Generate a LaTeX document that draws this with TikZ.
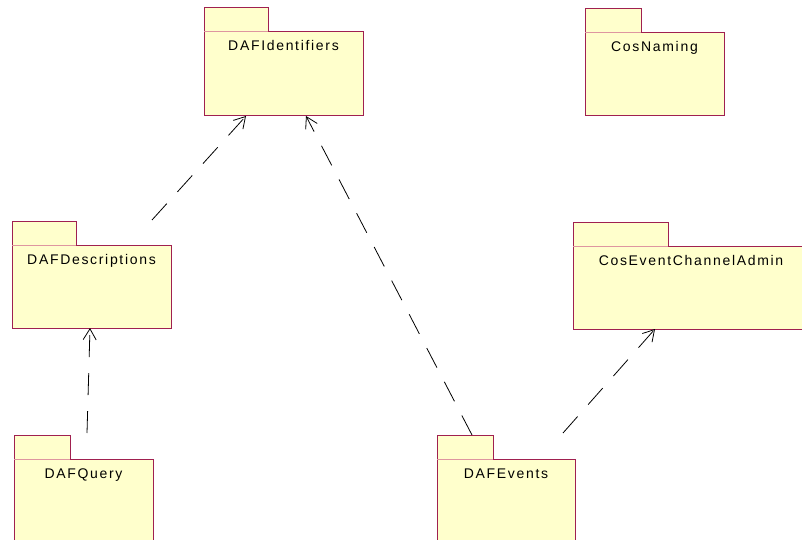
\documentclass[tikz,border=0pt]{standalone}
\usepackage{fontspec}
\setmainfont{Liberation Sans}
\newfontfamily\pkgfont{Liberation Sans}[LetterSpace=12]
\usepackage{tikz}
\usetikzlibrary{calc}
\usetikzlibrary{positioning}
\usetikzlibrary{arrows.meta}
\definecolor{pkgfill}{RGB}{255,255,204}
\definecolor{pkgline}{RGB}{160,32,80}
\definecolor{pkgsep}{RGB}{222,150,160}

\begin{document}
\begin{tikzpicture}[x=1pt,y=-1pt,
		pkg/.style={draw=pkgline,fill=pkgfill,line width=1pt,inner sep=0pt,outer sep=0pt,anchor=north west},
		pkgtab/.style={draw=pkgline,fill=pkgfill,line width=1pt},
		pkgsep/.style={draw=pkgsep,line width=1pt},
		pkgname/.style={font=\pkgfont\fontsize{14}{16}\selectfont,anchor=base,inner sep=0pt},
		dep/.style={line width=.8pt,dash pattern=on 22pt off 16pt,-{Straight Barb[length=11pt,width=13pt]}}]

				\useasboundingbox (0,0) rectangle (802,540);
				\clip (0,0) rectangle (802,540);

				\foreach \name/\x/\y/\w/\h/\tab/\text in {
						ident/204/32/159/84/64/DAFIdentifiers,
						naming/585/33/139/83/56/CosNaming,
						desc/12/245/159/83/64/DAFDescriptions,
						admin/573/246/236/83/95/CosEventChannelAdmin,
						query/14/459/139/100/56/DAFQuery,
						events/437/459/138/100/56/DAFEvents} {
					\node [pkg,minimum width=\w pt,minimum height=\h pt] (\name) at (\x,\y) {};
					\draw [pkgtab] (\name.north west) -- ++(0,-24) -- ++(\tab,0) -- ++(0,24);
					\draw [pkgsep] (\name.north west) -- ++(\tab,0);
					\node [pkgname] (\name-name) at ($(\name.north)+(0,19)$) {\text};
				}

				\draw [dep] ($(desc.north west)+(140,-25)$) -- ($(ident.south west)+(42,0)$);
				\draw [dep] ($(events.north west)+(35,-24)$) -- ($(ident.south west)+(102,0)$);
				\draw [dep] ($(query.north west)+(73,-26)$) -- ($(desc.south west)+(78,0)$);
				\draw [dep] ($(events.north west)+(126,-26)$) -- ($(admin.south west)+(82,0)$);
			\end{tikzpicture}
\end{document}
